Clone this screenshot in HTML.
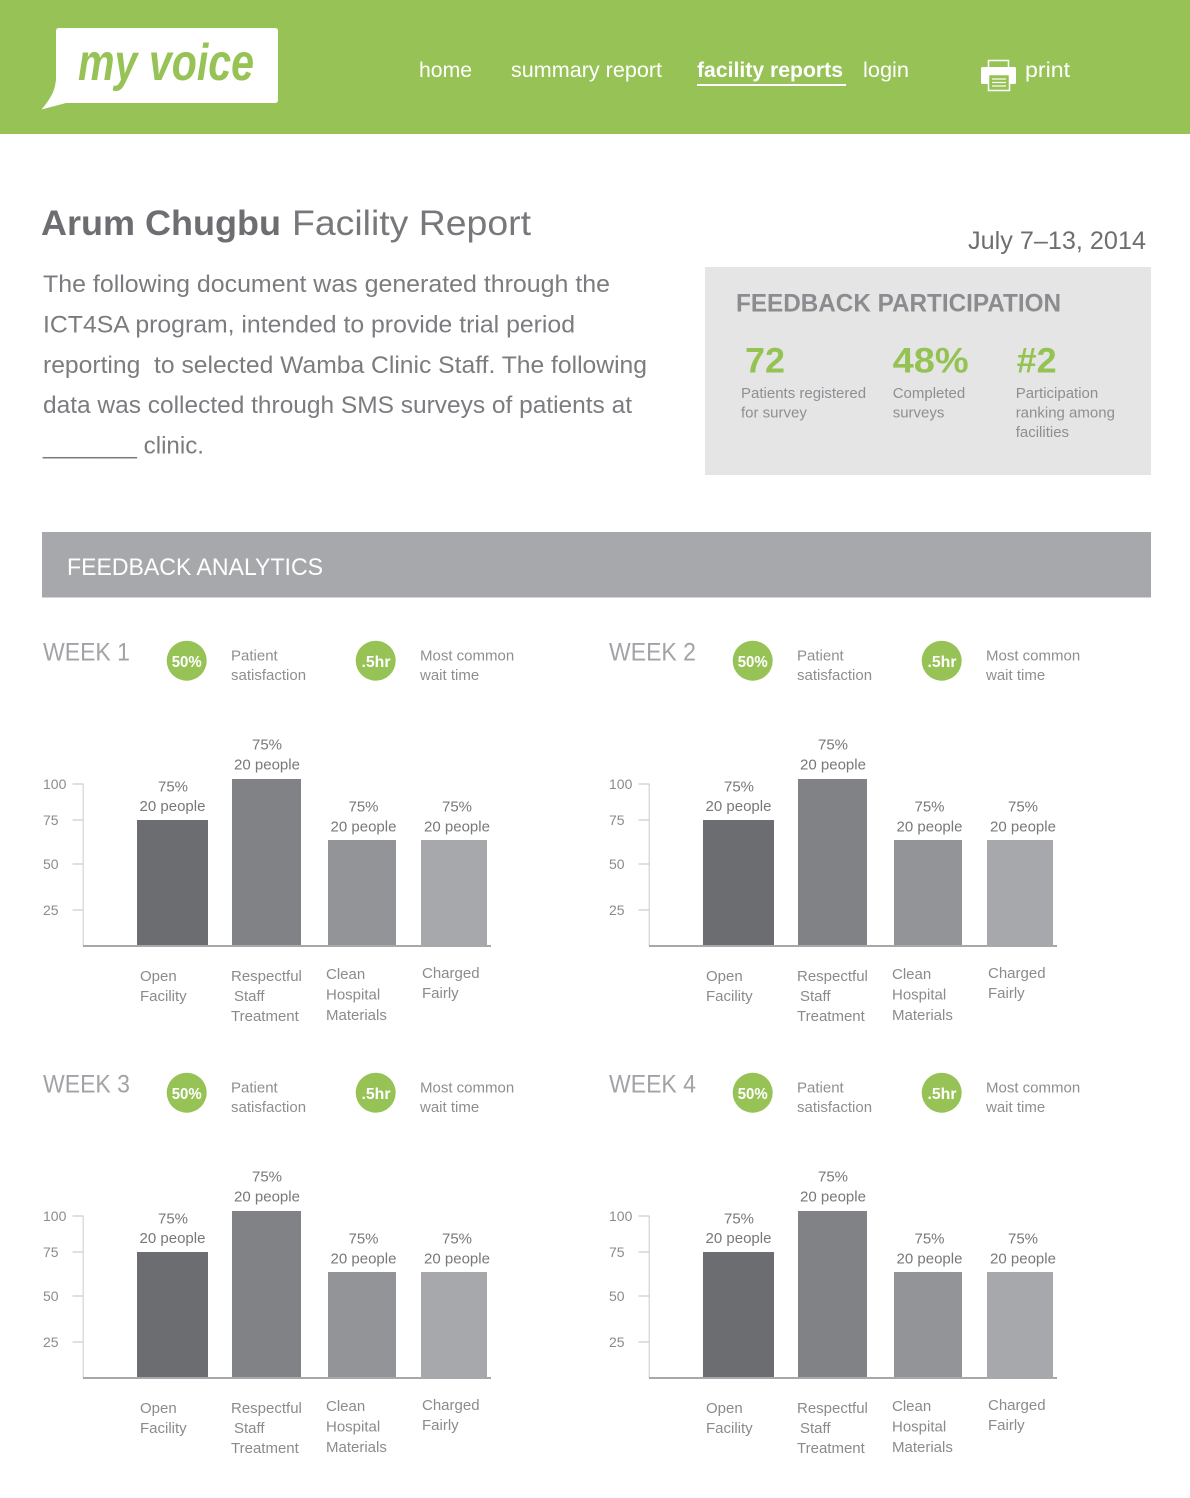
<!DOCTYPE html>
<html>
<head>
<meta charset="utf-8">
<style>
  html,body{margin:0;padding:0;background:#fff;}
  svg{display:block;}
  text{font-family:"Liberation Sans", sans-serif;}
  .nav{font-size:21px;fill:#fff;}
  .para{font-size:24px;fill:#7b7c7f;}
  .lbl{font-size:15px;fill:#8e8f92;}
  .bl{font-size:15px;fill:#77787b;}
  .cat{font-size:15px;fill:#8a8b8e;}
  .yt{font-size:14px;fill:#8a8b8e;}
  .wk{font-size:25px;fill:#a2a3a6;}
  .cn{font-size:15.5px;font-weight:bold;fill:#fff;}
</style>
</head>
<body>
<svg width="1190" height="1498" viewBox="0 0 1190 1498" xmlns="http://www.w3.org/2000/svg">
  <!-- Header -->
  <rect x="0" y="0" width="1190" height="134" fill="#97c356"/>
  <path d="M59,28 L275,28 Q278,28 278,31 L278,100 Q278,103 275,103 L66,103 L41.5,109.5 Q53,96 55,86 L56,80 L56,31 Q56,28 59,28 Z" fill="#fff"/>
  <text x="78" y="80" font-size="52" font-weight="bold" font-style="italic" fill="#97c356" textLength="176" lengthAdjust="spacingAndGlyphs">my voice</text>

  <text class="nav" x="419" y="77" textLength="53" lengthAdjust="spacingAndGlyphs">home</text>
  <text class="nav" x="511" y="77" textLength="151" lengthAdjust="spacingAndGlyphs">summary report</text>
  <text class="nav" x="697" y="77" font-weight="bold" textLength="146" lengthAdjust="spacingAndGlyphs">facility reports</text>
  <rect x="697" y="84" width="149" height="2" fill="#fff"/>
  <text class="nav" x="863" y="77" textLength="46" lengthAdjust="spacingAndGlyphs">login</text>
  <!-- printer -->
  <rect x="988.5" y="60.5" width="20" height="9" fill="none" stroke="#fff" stroke-width="1.5"/>
  <rect x="981" y="67" width="35" height="17" rx="1.5" fill="#fff"/>
  <rect x="988.5" y="74.5" width="21" height="16" fill="#97c356" stroke="#fff" stroke-width="1.5"/>
  <line x1="992" y1="79" x2="1006" y2="79" stroke="#fff" stroke-width="1.2"/>
  <line x1="992" y1="82.5" x2="1006" y2="82.5" stroke="#fff" stroke-width="1.2"/>
  <line x1="992" y1="86" x2="1006" y2="86" stroke="#fff" stroke-width="1.2"/>
  <text class="nav" x="1025" y="77" textLength="45" lengthAdjust="spacingAndGlyphs">print</text>

  <!-- Title -->
  <text x="41" y="235" font-size="35" font-weight="bold" fill="#6d6e71" textLength="240" lengthAdjust="spacingAndGlyphs">Arum Chugbu</text>
  <text x="292" y="235" font-size="35" fill="#77787b" textLength="239" lengthAdjust="spacingAndGlyphs">Facility Report</text>

  <text x="968" y="249" font-size="25" fill="#6d6e71" textLength="178" lengthAdjust="spacingAndGlyphs">July 7–13, 2014</text>

  <!-- Paragraph -->
  <text class="para" x="43" y="292" textLength="567" lengthAdjust="spacingAndGlyphs">The following document was generated through the</text>
  <text class="para" x="43" y="332.5" textLength="532" lengthAdjust="spacingAndGlyphs">ICT4SA program, intended to provide trial period</text>
  <text class="para" x="43" y="373" textLength="604" lengthAdjust="spacingAndGlyphs">reporting&#160; to selected Wamba Clinic Staff. The following</text>
  <text class="para" x="43" y="413" textLength="589" lengthAdjust="spacingAndGlyphs">data was collected through SMS surveys of patients at</text>
  <text class="para" x="43" y="453.5" textLength="161" lengthAdjust="spacingAndGlyphs">_______ clinic.</text>

  <!-- Feedback participation box -->
  <rect x="705" y="267" width="446" height="208" fill="#e5e5e6"/>
  <text x="736" y="311.7" font-size="25" font-weight="bold" fill="#8b8c8f" textLength="325" lengthAdjust="spacingAndGlyphs">FEEDBACK PARTICIPATION</text>
  <text x="745" y="372.3" font-size="35" font-weight="bold" fill="#94c354" textLength="40" lengthAdjust="spacingAndGlyphs">72</text>
  <text x="892.7" y="372.3" font-size="35" font-weight="bold" fill="#94c354" textLength="76" lengthAdjust="spacingAndGlyphs">48%</text>
  <text x="1016.7" y="372.3" font-size="35" font-weight="bold" fill="#94c354" textLength="40" lengthAdjust="spacingAndGlyphs">#2</text>
  <text class="lbl" x="741" y="398">Patients registered</text>
  <text class="lbl" x="741" y="417.5">for survey</text>
  <text class="lbl" x="892.7" y="398">Completed</text>
  <text class="lbl" x="892.7" y="417.5">surveys</text>
  <text class="lbl" x="1015.7" y="398">Participation</text>
  <text class="lbl" x="1015.7" y="417.5">ranking among</text>
  <text class="lbl" x="1015.7" y="437">facilities</text>

  <!-- Feedback analytics bar -->
  <rect x="42" y="532" width="1109" height="65.5" fill="#a7a8ab"/>
  <text x="67" y="575" font-size="24" fill="#fff" textLength="256" lengthAdjust="spacingAndGlyphs">FEEDBACK ANALYTICS</text>

  <!-- WEEK 1 -->
  <g transform="translate(0,0)">
    <text class="wk" x="43" y="660.7" textLength="87" lengthAdjust="spacingAndGlyphs">WEEK 1</text>
    <circle cx="186.7" cy="660.7" r="20" fill="#97c356"/>
    <text class="cn" x="186.7" y="667" text-anchor="middle" textLength="30" lengthAdjust="spacingAndGlyphs">50%</text>
    <text class="lbl" x="231" y="660.7">Patient</text>
    <text class="lbl" x="231" y="680">satisfaction</text>
    <circle cx="375.7" cy="660.7" r="20" fill="#97c356"/>
    <text class="cn" x="376" y="667" text-anchor="middle" textLength="29" lengthAdjust="spacingAndGlyphs">.5hr</text>
    <text class="lbl" x="420" y="660.7">Most common</text>
    <text class="lbl" x="420" y="680">wait time</text>

    <rect x="82.5" y="784" width="1.5" height="162" fill="#dcdcdd"/>
    <rect x="72.5" y="783.3" width="11" height="1.4" fill="#d3d3d5"/>
    <rect x="72.5" y="819.3" width="11" height="1.4" fill="#d3d3d5"/>
    <rect x="72.5" y="863.3" width="11" height="1.4" fill="#d3d3d5"/>
    <rect x="72.5" y="909.3" width="11" height="1.4" fill="#d3d3d5"/>
    <text class="yt" x="43" y="789">100</text>
    <text class="yt" x="43" y="825">75</text>
    <text class="yt" x="43" y="869">50</text>
    <text class="yt" x="43" y="915">25</text>

    <rect x="137" y="820" width="71" height="125" fill="#6c6d71"/>
    <rect x="232" y="779" width="69" height="166" fill="#818286"/>
    <rect x="328" y="840" width="68" height="105" fill="#939498"/>
    <rect x="421" y="840" width="66" height="105" fill="#a7a8ab"/>
    <rect x="83" y="945" width="408" height="2" fill="#a7a8ab"/>

    <text class="bl" x="173" y="791.5" text-anchor="middle">75%</text>
    <text class="bl" x="172.5" y="811" text-anchor="middle">20 people</text>
    <text class="bl" x="267" y="749.5" text-anchor="middle">75%</text>
    <text class="bl" x="267" y="769.5" text-anchor="middle">20 people</text>
    <text class="bl" x="363.5" y="811.5" text-anchor="middle">75%</text>
    <text class="bl" x="363.5" y="831.5" text-anchor="middle">20 people</text>
    <text class="bl" x="457" y="811.5" text-anchor="middle">75%</text>
    <text class="bl" x="457" y="831.5" text-anchor="middle">20 people</text>

    <text class="cat" x="140" y="981">Open</text>
    <text class="cat" x="140" y="1001">Facility</text>
    <text class="cat" x="231" y="981">Respectful</text>
    <text class="cat" x="234" y="1001">Staff</text>
    <text class="cat" x="231" y="1021">Treatment</text>
    <text class="cat" x="326" y="979">Clean</text>
    <text class="cat" x="326" y="999.5">Hospital</text>
    <text class="cat" x="326" y="1020">Materials</text>
    <text class="cat" x="422" y="978">Charged</text>
    <text class="cat" x="422" y="998">Fairly</text>
  </g>

  <!-- WEEK 2 -->
  <g transform="translate(566,0)">
    <text class="wk" x="43" y="660.7" textLength="87" lengthAdjust="spacingAndGlyphs">WEEK 2</text>
    <circle cx="186.7" cy="660.7" r="20" fill="#97c356"/>
    <text class="cn" x="186.7" y="667" text-anchor="middle" textLength="30" lengthAdjust="spacingAndGlyphs">50%</text>
    <text class="lbl" x="231" y="660.7">Patient</text>
    <text class="lbl" x="231" y="680">satisfaction</text>
    <circle cx="375.7" cy="660.7" r="20" fill="#97c356"/>
    <text class="cn" x="376" y="667" text-anchor="middle" textLength="29" lengthAdjust="spacingAndGlyphs">.5hr</text>
    <text class="lbl" x="420" y="660.7">Most common</text>
    <text class="lbl" x="420" y="680">wait time</text>

    <rect x="82.5" y="784" width="1.5" height="162" fill="#dcdcdd"/>
    <rect x="72.5" y="783.3" width="11" height="1.4" fill="#d3d3d5"/>
    <rect x="72.5" y="819.3" width="11" height="1.4" fill="#d3d3d5"/>
    <rect x="72.5" y="863.3" width="11" height="1.4" fill="#d3d3d5"/>
    <rect x="72.5" y="909.3" width="11" height="1.4" fill="#d3d3d5"/>
    <text class="yt" x="43" y="789">100</text>
    <text class="yt" x="43" y="825">75</text>
    <text class="yt" x="43" y="869">50</text>
    <text class="yt" x="43" y="915">25</text>

    <rect x="137" y="820" width="71" height="125" fill="#6c6d71"/>
    <rect x="232" y="779" width="69" height="166" fill="#818286"/>
    <rect x="328" y="840" width="68" height="105" fill="#939498"/>
    <rect x="421" y="840" width="66" height="105" fill="#a7a8ab"/>
    <rect x="83" y="945" width="408" height="2" fill="#a7a8ab"/>

    <text class="bl" x="173" y="791.5" text-anchor="middle">75%</text>
    <text class="bl" x="172.5" y="811" text-anchor="middle">20 people</text>
    <text class="bl" x="267" y="749.5" text-anchor="middle">75%</text>
    <text class="bl" x="267" y="769.5" text-anchor="middle">20 people</text>
    <text class="bl" x="363.5" y="811.5" text-anchor="middle">75%</text>
    <text class="bl" x="363.5" y="831.5" text-anchor="middle">20 people</text>
    <text class="bl" x="457" y="811.5" text-anchor="middle">75%</text>
    <text class="bl" x="457" y="831.5" text-anchor="middle">20 people</text>

    <text class="cat" x="140" y="981">Open</text>
    <text class="cat" x="140" y="1001">Facility</text>
    <text class="cat" x="231" y="981">Respectful</text>
    <text class="cat" x="234" y="1001">Staff</text>
    <text class="cat" x="231" y="1021">Treatment</text>
    <text class="cat" x="326" y="979">Clean</text>
    <text class="cat" x="326" y="999.5">Hospital</text>
    <text class="cat" x="326" y="1020">Materials</text>
    <text class="cat" x="422" y="978">Charged</text>
    <text class="cat" x="422" y="998">Fairly</text>
  </g>

  <!-- WEEK 3 -->
  <g transform="translate(0,432)">
    <text class="wk" x="43" y="660.7" textLength="87" lengthAdjust="spacingAndGlyphs">WEEK 3</text>
    <circle cx="186.7" cy="660.7" r="20" fill="#97c356"/>
    <text class="cn" x="186.7" y="667" text-anchor="middle" textLength="30" lengthAdjust="spacingAndGlyphs">50%</text>
    <text class="lbl" x="231" y="660.7">Patient</text>
    <text class="lbl" x="231" y="680">satisfaction</text>
    <circle cx="375.7" cy="660.7" r="20" fill="#97c356"/>
    <text class="cn" x="376" y="667" text-anchor="middle" textLength="29" lengthAdjust="spacingAndGlyphs">.5hr</text>
    <text class="lbl" x="420" y="660.7">Most common</text>
    <text class="lbl" x="420" y="680">wait time</text>

    <rect x="82.5" y="784" width="1.5" height="162" fill="#dcdcdd"/>
    <rect x="72.5" y="783.3" width="11" height="1.4" fill="#d3d3d5"/>
    <rect x="72.5" y="819.3" width="11" height="1.4" fill="#d3d3d5"/>
    <rect x="72.5" y="863.3" width="11" height="1.4" fill="#d3d3d5"/>
    <rect x="72.5" y="909.3" width="11" height="1.4" fill="#d3d3d5"/>
    <text class="yt" x="43" y="789">100</text>
    <text class="yt" x="43" y="825">75</text>
    <text class="yt" x="43" y="869">50</text>
    <text class="yt" x="43" y="915">25</text>

    <rect x="137" y="820" width="71" height="125" fill="#6c6d71"/>
    <rect x="232" y="779" width="69" height="166" fill="#818286"/>
    <rect x="328" y="840" width="68" height="105" fill="#939498"/>
    <rect x="421" y="840" width="66" height="105" fill="#a7a8ab"/>
    <rect x="83" y="945" width="408" height="2" fill="#a7a8ab"/>

    <text class="bl" x="173" y="791.5" text-anchor="middle">75%</text>
    <text class="bl" x="172.5" y="811" text-anchor="middle">20 people</text>
    <text class="bl" x="267" y="749.5" text-anchor="middle">75%</text>
    <text class="bl" x="267" y="769.5" text-anchor="middle">20 people</text>
    <text class="bl" x="363.5" y="811.5" text-anchor="middle">75%</text>
    <text class="bl" x="363.5" y="831.5" text-anchor="middle">20 people</text>
    <text class="bl" x="457" y="811.5" text-anchor="middle">75%</text>
    <text class="bl" x="457" y="831.5" text-anchor="middle">20 people</text>

    <text class="cat" x="140" y="981">Open</text>
    <text class="cat" x="140" y="1001">Facility</text>
    <text class="cat" x="231" y="981">Respectful</text>
    <text class="cat" x="234" y="1001">Staff</text>
    <text class="cat" x="231" y="1021">Treatment</text>
    <text class="cat" x="326" y="979">Clean</text>
    <text class="cat" x="326" y="999.5">Hospital</text>
    <text class="cat" x="326" y="1020">Materials</text>
    <text class="cat" x="422" y="978">Charged</text>
    <text class="cat" x="422" y="998">Fairly</text>
  </g>

  <!-- WEEK 4 -->
  <g transform="translate(566,432)">
    <text class="wk" x="43" y="660.7" textLength="87" lengthAdjust="spacingAndGlyphs">WEEK 4</text>
    <circle cx="186.7" cy="660.7" r="20" fill="#97c356"/>
    <text class="cn" x="186.7" y="667" text-anchor="middle" textLength="30" lengthAdjust="spacingAndGlyphs">50%</text>
    <text class="lbl" x="231" y="660.7">Patient</text>
    <text class="lbl" x="231" y="680">satisfaction</text>
    <circle cx="375.7" cy="660.7" r="20" fill="#97c356"/>
    <text class="cn" x="376" y="667" text-anchor="middle" textLength="29" lengthAdjust="spacingAndGlyphs">.5hr</text>
    <text class="lbl" x="420" y="660.7">Most common</text>
    <text class="lbl" x="420" y="680">wait time</text>

    <rect x="82.5" y="784" width="1.5" height="162" fill="#dcdcdd"/>
    <rect x="72.5" y="783.3" width="11" height="1.4" fill="#d3d3d5"/>
    <rect x="72.5" y="819.3" width="11" height="1.4" fill="#d3d3d5"/>
    <rect x="72.5" y="863.3" width="11" height="1.4" fill="#d3d3d5"/>
    <rect x="72.5" y="909.3" width="11" height="1.4" fill="#d3d3d5"/>
    <text class="yt" x="43" y="789">100</text>
    <text class="yt" x="43" y="825">75</text>
    <text class="yt" x="43" y="869">50</text>
    <text class="yt" x="43" y="915">25</text>

    <rect x="137" y="820" width="71" height="125" fill="#6c6d71"/>
    <rect x="232" y="779" width="69" height="166" fill="#818286"/>
    <rect x="328" y="840" width="68" height="105" fill="#939498"/>
    <rect x="421" y="840" width="66" height="105" fill="#a7a8ab"/>
    <rect x="83" y="945" width="408" height="2" fill="#a7a8ab"/>

    <text class="bl" x="173" y="791.5" text-anchor="middle">75%</text>
    <text class="bl" x="172.5" y="811" text-anchor="middle">20 people</text>
    <text class="bl" x="267" y="749.5" text-anchor="middle">75%</text>
    <text class="bl" x="267" y="769.5" text-anchor="middle">20 people</text>
    <text class="bl" x="363.5" y="811.5" text-anchor="middle">75%</text>
    <text class="bl" x="363.5" y="831.5" text-anchor="middle">20 people</text>
    <text class="bl" x="457" y="811.5" text-anchor="middle">75%</text>
    <text class="bl" x="457" y="831.5" text-anchor="middle">20 people</text>

    <text class="cat" x="140" y="981">Open</text>
    <text class="cat" x="140" y="1001">Facility</text>
    <text class="cat" x="231" y="981">Respectful</text>
    <text class="cat" x="234" y="1001">Staff</text>
    <text class="cat" x="231" y="1021">Treatment</text>
    <text class="cat" x="326" y="979">Clean</text>
    <text class="cat" x="326" y="999.5">Hospital</text>
    <text class="cat" x="326" y="1020">Materials</text>
    <text class="cat" x="422" y="978">Charged</text>
    <text class="cat" x="422" y="998">Fairly</text>
  </g>
</svg>
</body>
</html>
